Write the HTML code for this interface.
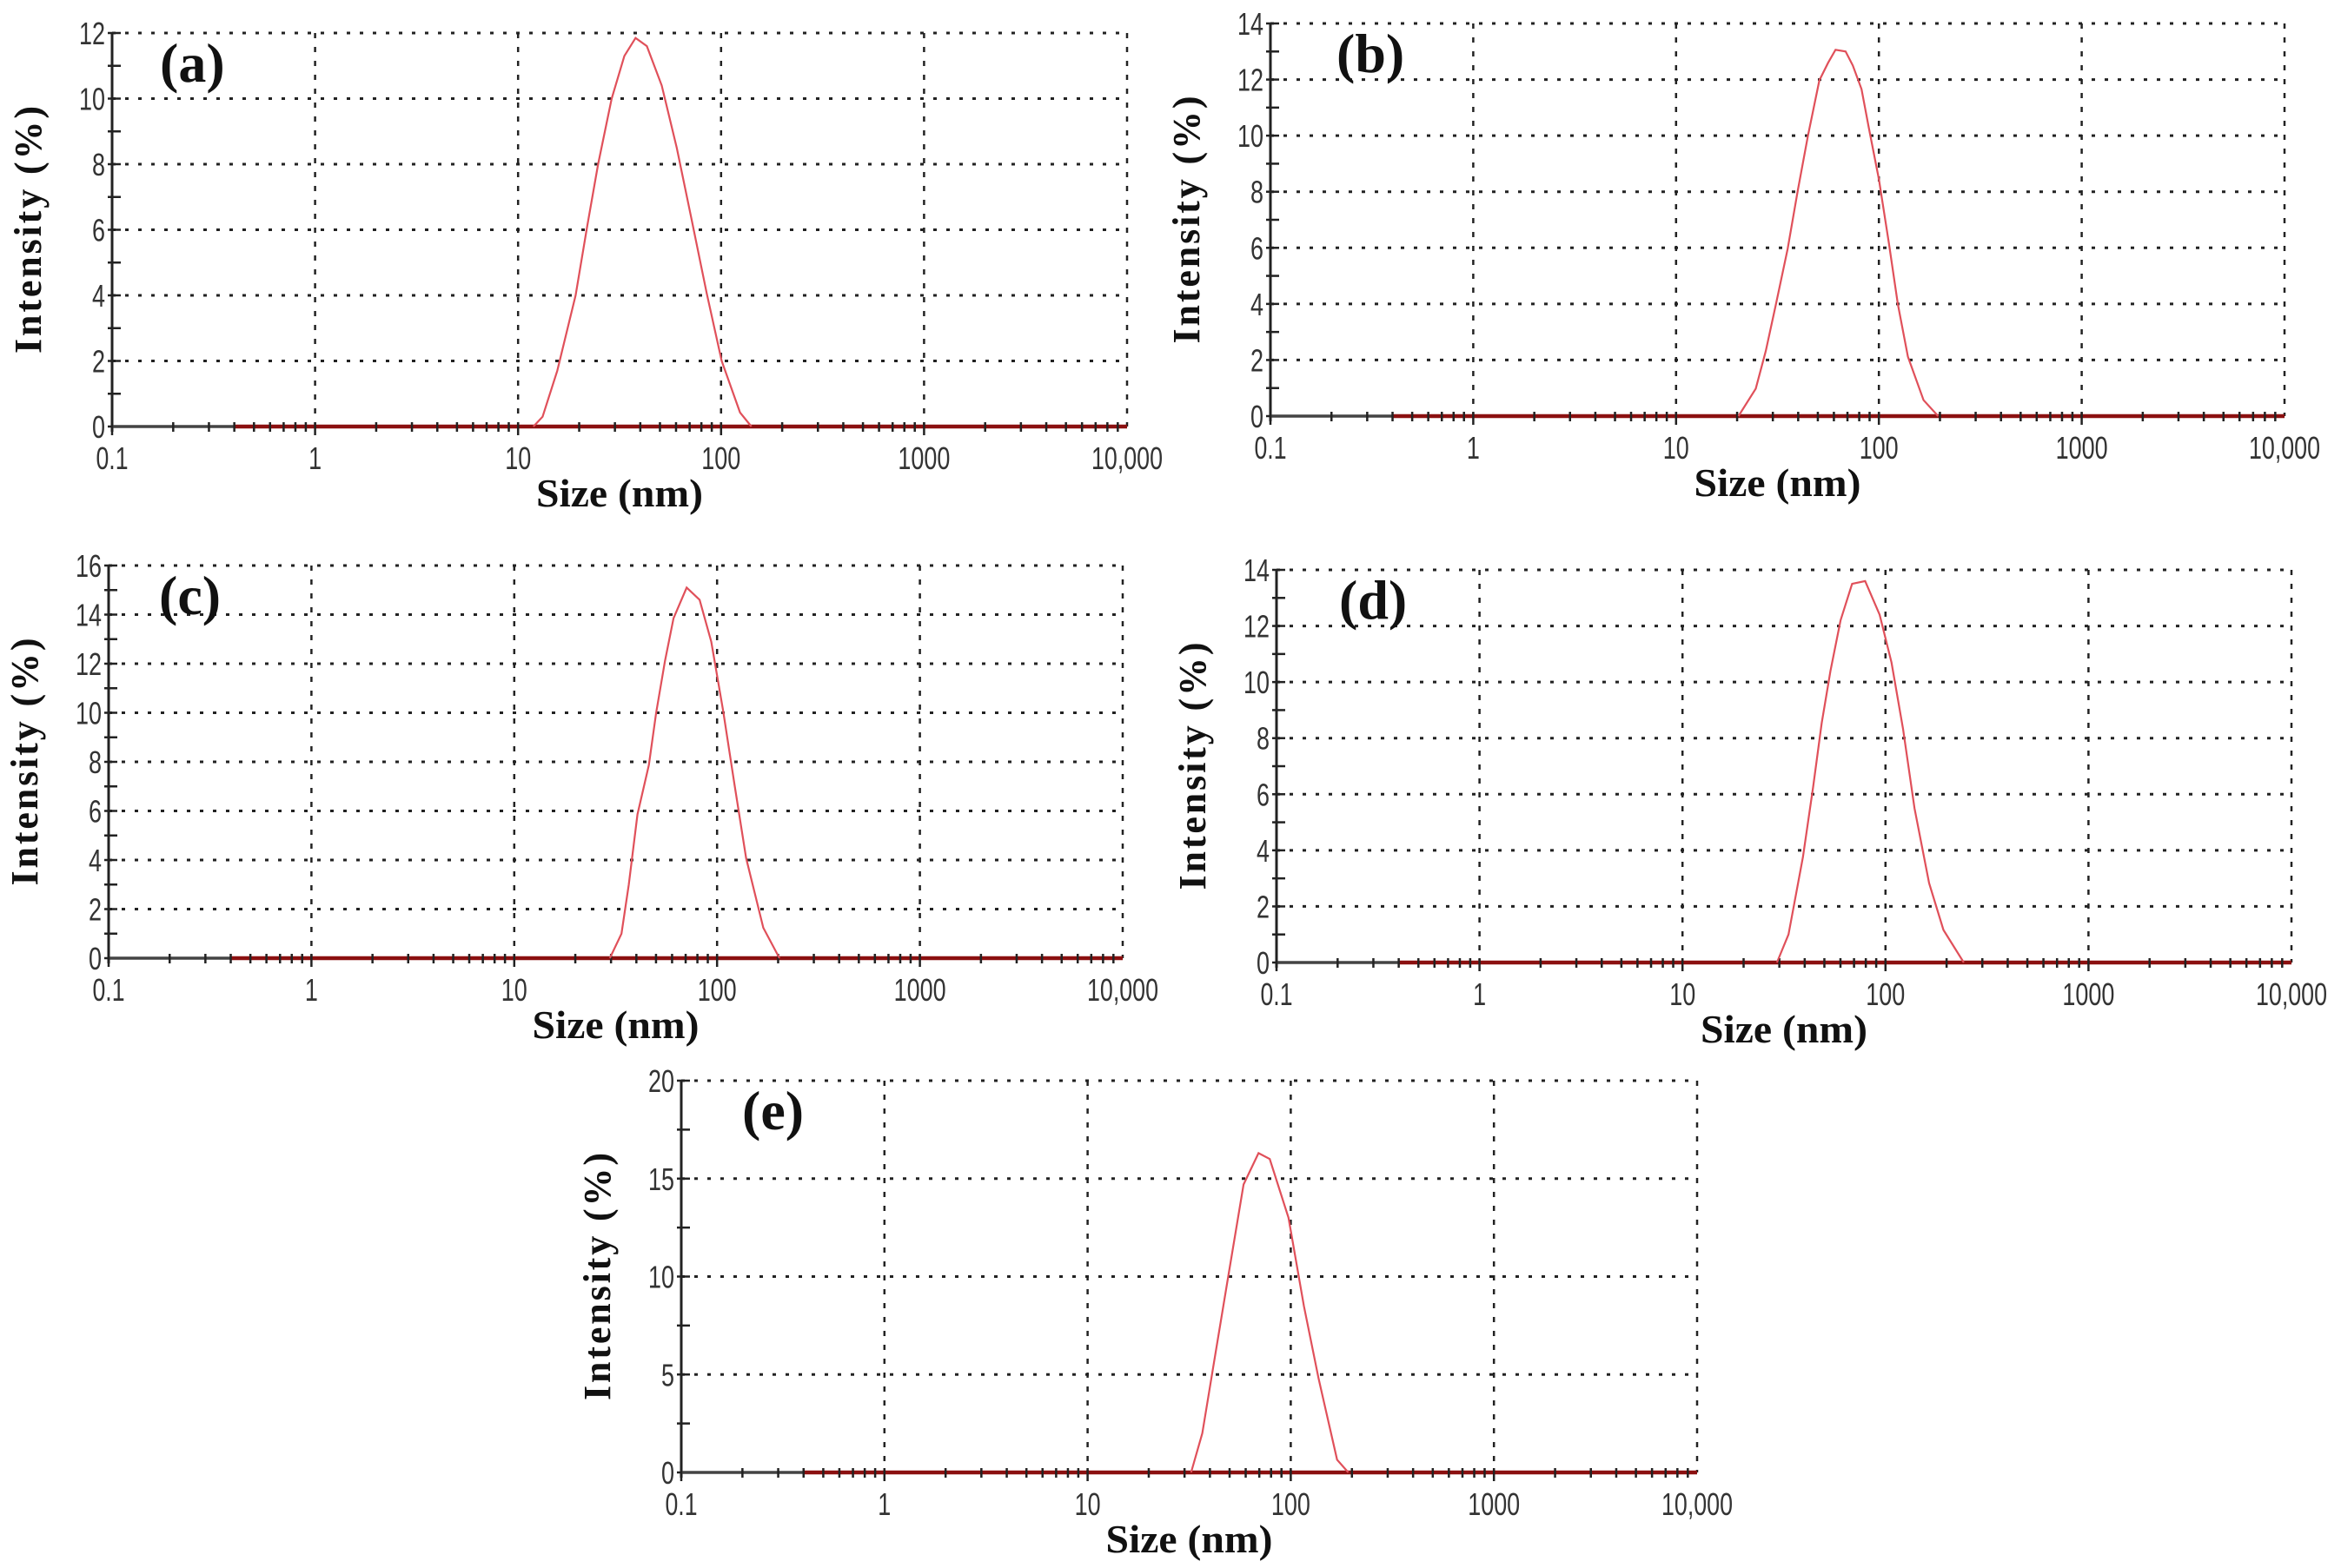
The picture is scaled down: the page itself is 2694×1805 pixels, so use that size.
<!DOCTYPE html>
<html><head><meta charset="utf-8"><style>
html,body{margin:0;padding:0;background:#fff}
svg{display:block}
.tk{font-family:"Liberation Sans Narrow","Liberation Sans",sans-serif;font-size:36px;fill:#333}
.tt{font-family:"Liberation Serif",serif;font-weight:bold;fill:#111}
</style></head><body>
<svg id="fig" width="2694" height="1805" viewBox="0 0 2694 1805" xmlns="http://www.w3.org/2000/svg"></svg>
<script>
// Panel (a)
const sizeA = [11.9,13.2,15.6,19.2,21.9,24.8,28.9,33.4,37.9,43.1,51,60.5,71.7,85,100.7,124,141];
const intA  = [0,0.3,1.7,4.0,6.1,8.0,10.0,11.3,11.85,11.6,10.4,8.5,6.3,4.06,2.0,0.43,0];
// Panel (b)
const sizeB = [20.3,24.7,27.7,31.1,35.5,39.8,44.7,50.9,56.2,61.1,68.5,74.4,82.1,89.1,100,112,124,139,166,196];
const intB  = [0,0.98,2.33,4.0,5.96,8.03,10.0,11.97,12.6,13.06,13.0,12.5,11.66,10.3,8.45,6.17,4.0,2.12,0.57,0];
// Panel (c)
const sizeC = [29.6,33.8,36.7,40.5,46.1,50.1,55.3,61,70.8,82,93.6,107,122,139,169,203];
const intC  = [0,1.0,3.0,5.86,7.87,10.0,12.1,13.85,15.1,14.6,12.9,10.1,7.04,4.08,1.24,0];
// Panel (d)
const sizeD = [29.2,33.3,39.2,44,48.5,53.6,60.1,68.5,79.4,93.6,107,122,139,164,193,243];
const intD  = [0,1.0,3.76,6.25,8.54,10.4,12.2,13.5,13.6,12.4,10.7,8.33,5.5,2.83,1.16,0];
// Panel (e)
const sizeE = [32.3,36.7,41.7,49.4,58.6,69.4,78.8,97.5,116,137,169,192];
const intE  = [0,2.0,5.5,10.1,14.7,16.3,16.0,13.0,8.5,4.8,0.65,0];
// Axis ticks
const xTickVals = [0.1,1,10,100,1000,10000];
const xTickLabels = ["0.1","1","10","100","1000","10,000"];
const yMaxA = 12, yMaxB = 14, yMaxC = 16, yMaxD = 14, yMaxE = 20;
const yStepA = 2, yStepB = 2, yStepC = 2, yStepD = 2, yStepE = 5;

const NS = "http://www.w3.org/2000/svg";
const svg = document.getElementById("fig");
function mk(tag, attrs, parent){
  const e = document.createElementNS(NS, tag);
  for (const k in attrs) e.setAttribute(k, attrs[k]);
  (parent||svg).appendChild(e);
  return e;
}
function lblWidth(s){
  let w = 0;
  for (const ch of s) w += (ch === "," || ch === ".") ? 7 : 15;
  return w;
}

function panel(id, box, sizes, ints, yMax, yStep, labOff){
  const g = mk("g", {});
  
  
  const L = box[0], R = box[1], T = box[2], B = box[3];
  const xs = v => L + (Math.log10(v) + 1) / 5 * (R - L);
  const ys = v => B - v / yMax * (B - T);

  for (let v = yStep; v <= yMax + 1e-9; v += yStep) {
    const gl = mk("line", {x1:L, x2:R, y1:ys(v), y2:ys(v), stroke:"#222", "stroke-width":3, "stroke-dasharray":"4 11"}, g);
    
    
  }
  for (let i = 1; i < xTickVals.length; i++) {
    const vl = mk("line", {x1:xs(xTickVals[i]), x2:xs(xTickVals[i]), y1:T, y2:B, stroke:"#222", "stroke-width":2.5, "stroke-dasharray":"6 10"}, g);
    
    
  }
  const ya = mk("line", {x1:L, x2:L, y1:T, y2:B+6, stroke:"#222", "stroke-width":3}, g);
  
  
  for (let v = 0; v <= yMax + 1e-9; v += yStep / 2) {
    const t = mk("line", {x1:L-5, x2:L+10, y1:ys(v), y2:ys(v), stroke:"#222", "stroke-width":2.5}, g);
    
    
  }
  for (let v = 0; v <= yMax + 1e-9; v += yStep) {
    const s = String(v);
    const tl = mk("text", {x:L-8, y:ys(v)+13, "text-anchor":"end", class:"tk", textLength:lblWidth(s), lengthAdjust:"spacingAndGlyphs"}, g);
    tl.textContent = s;
    
    
  }
  const xa = mk("line", {x1:L, x2:R, y1:B, y2:B, stroke:"#444", "stroke-width":3.5}, g);
  
  
  const base = mk("line", {x1:xs(0.4), x2:R, y1:B, y2:B, stroke:"#8b1010", "stroke-width":4.5}, g);
  
  
  for (let d = 0; d < 5; d++) {
    for (let m = 1; m <= 9; m++) {
      const v = Math.pow(10, d - 1) * m;
      const t = mk("line", {x1:xs(v), x2:xs(v), y1:B-5, y2:B+(m===1?10:6), stroke:"#222", "stroke-width":2.5}, g);
      
      
    }
  }
  for (let i = 0; i < xTickVals.length; i++) {
    const s = xTickLabels[i];
    const tl = mk("text", {x:xs(xTickVals[i]), y:B+49, "text-anchor":"middle", class:"tk", textLength:lblWidth(s), lengthAdjust:"spacingAndGlyphs"}, g);
    tl.textContent = s;
    
    
  }
  const pts = sizes.map((s, i) => xs(s).toFixed(1) + "," + ys(ints[i]).toFixed(1)).join(" ");
  const c = mk("polyline", {points:pts, fill:"none", stroke:"#e0505a", "stroke-width":2.2}, g);
  
  
  const xt = mk("text", {x:(L+R)/2, y:B+92, "text-anchor":"middle", class:"tt", "font-size":46, textLength:192, lengthAdjust:"spacingAndGlyphs"}, g);
  xt.textContent = "Size (nm)";
  
  
  const cy = (T+B)/2;
  const yt = mk("text", {x:L-82, y:cy, "text-anchor":"middle", class:"tt", "font-size":44, textLength:285, lengthAdjust:"spacing", transform:"rotate(-90 "+(L-82)+" "+cy+")"}, g);
  yt.textContent = "Intensity  (%)";
  
  
  const pl = mk("text", {x:L+labOff, y:T+56, class:"tt", "font-size":64}, g);
  pl.textContent = "(" + id + ")";
  
  
}

panel("a", [129,1297,38,491], sizeA, intA, yMaxA, yStepA, 55);
panel("b", [1462,2629,27,479], sizeB, intB, yMaxB, yStepB, 76);
panel("c", [125,1292,651,1103], sizeC, intC, yMaxC, yStepC, 58);
panel("d", [1469,2637,656,1108], sizeD, intD, yMaxD, yStepD, 72);
panel("e", [784,1953,1244,1695], sizeE, intE, yMaxE, yStepE, 70);
</script>
</body></html>
